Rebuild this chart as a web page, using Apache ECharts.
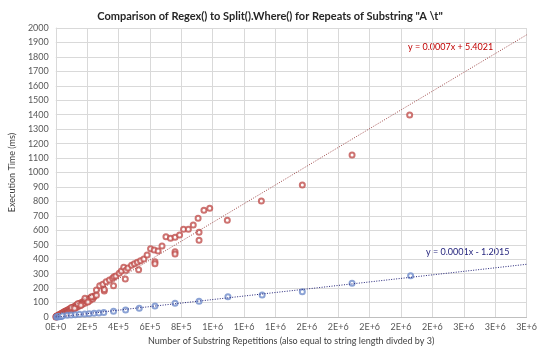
<!DOCTYPE html>
<html>
<head>
<meta charset="utf-8">
<script src="https://cdn.jsdelivr.net/npm/echarts@6/dist/echarts.min.js"></script>
<style>
  html, body { margin: 0; padding: 0; background: #fff; }
  #chart { width: 540px; height: 354px; }
</style>
</head>
<body>
<div id="chart"></div>
<script>
// Regex() timings: [repetitions, ms]
const regexData = [
  [1000, 0], [2000, 1], [3000, 3], [4000, 3], [5000, 2], [6000, 2], [7000, 5], [8000, 5],
  [9000, 3], [10000, 6], [11000, 8], [12000, 8], [13000, 5], [15000, 9], [16000, 12],
  [18000, 11], [19000, 7], [21000, 12], [22000, 15], [24000, 15], [25000, 11], [27000, 16],
  [28000, 19], [30000, 18], [31000, 14], [34000, 20], [35000, 24], [38000, 23], [39000, 17],
  [42000, 24], [43000, 29], [46000, 28], [47000, 21], [50000, 29], [51000, 34], [54000, 33],
  [55000, 26], [58000, 34], [59000, 39], [63000, 38], [64000, 30], [68000, 39], [69000, 45],
  [73000, 44], [74000, 35], [78000, 45], [79000, 50], [83000, 50], [84000, 41], [88000, 51],
  [89000, 57], [94000, 56], [95000, 47], [100000, 57], [101000, 63], [106000, 63],
  [107000, 53], [112000, 64], [113000, 70], [118000, 70], [119000, 59], [124000, 71],
  [125000, 77], [130000, 77], [131000, 66], [136000, 78], [137000, 85], [142000, 84],
  [143000, 73], [148000, 86], [149000, 93], [155000, 91], [156000, 80], [162000, 93],
  [163000, 101], [169000, 99], [170000, 88], [176000, 101], [177000, 109], [184000, 108],
  [185000, 96], [192000, 110], [193000, 118], [200000, 117], [201000, 105], [208000, 119],
  [209000, 127], [216000, 126], [217000, 114], [225000, 128], [226000, 136], [234000, 136],
  [235000, 124], [243000, 139], [244000, 146],
  [100000, 66], [120000, 60], [140000, 92], [160000, 82], [186000, 129], [205000, 104],
  [228000, 140], [259000, 150], [259000, 187], [280000, 217], [300000, 226], [309000, 180],
  [309000, 190], [321000, 244], [342000, 256], [362000, 268], [368000, 217], [371000, 279],
  [383000, 284], [404000, 302], [418000, 318], [433000, 344], [443000, 263], [447000, 323],
  [460000, 339], [483000, 358], [501000, 369], [520000, 379], [528000, 327], [540000, 390],
  [561000, 401], [582000, 429], [604000, 473], [627000, 464], [632000, 383], [632000, 369],
  [652000, 457], [677000, 491], [702000, 556], [731000, 545], [760000, 552], [760000, 452],
  [760000, 436], [789000, 567], [814000, 607], [845000, 607], [876000, 637], [907000, 683],
  [913000, 586], [913000, 531], [944000, 738], [981000, 752], [1093000, 670], [1310000, 803],
  [1571000, 913], [1888000, 1121], [2255000, 1398]
];

// Split().Where() timings: [repetitions, ms]
const splitData = [
  [5000, 0], [10000, 1], [15000, 1], [20000, 2], [25000, 3], [30000, 3], [35000, 4],
  [43000, 9], [73000, 12], [98000, 14], [124000, 16], [151000, 19], [184000, 21], [213000, 23],
  [244000, 26], [275000, 28], [306000, 32], [368000, 39], [445000, 48], [532000, 60],
  [632000, 76], [760000, 95], [913000, 109], [1097000, 140], [1315000, 152], [1571000, 175],
  [1888000, 233], [2261000, 286]
];

// linear trendlines: [slope, intercept] and the labels shown
const regexTrend = [0.000649, 5.4021];
const splitTrend = [0.000122, -1.2015];
const regexTrendLabel = 'y = 0.0007x + 5.4021';
const splitTrendLabel = 'y = 0.0001x - 1.2015';
const xRange = [0, 3000000];

function trendLine(t) {
  return xRange.map(function (x) { return [x, t[0] * x + t[1]]; });
}

const font = 'Lato, "Open Sans", sans-serif';
const chart = echarts.init(document.getElementById('chart'));
chart.setOption({
  animation: false,
  textStyle: { fontFamily: font },
  title: {
    text: 'Comparison of Regex() to Split().Where() for Repeats of Substring "A \\t"',
    left: 'center',
    top: 6,
    textStyle: { fontFamily: font, fontSize: 11, fontWeight: 'bold', color: '#262626' }
  },
  grid: { left: 45, right: 12, top: 28, bottom: 37 },
  xAxis: {
    type: 'value',
    min: 0,
    max: 3000000,
    interval: 200000,
    name: 'Number of Substring Repetitions (also equal to string length divded by 3)',
    nameLocation: 'middle',
    nameGap: 20,
    nameTextStyle: { fontSize: 9, color: '#404040' },
    axisLine: { show: true, lineStyle: { color: '#bfbfbf' } },
    axisTick: { show: false },
    axisLabel: {
      fontSize: 9, color: '#595959', margin: 6,
      formatter: function (v) { return v.toExponential(0).toUpperCase(); }
    },
    splitLine: { show: true, lineStyle: { color: '#d9d9d9' } }
  },
  yAxis: {
    type: 'value',
    min: 0,
    max: 2000,
    interval: 100,
    name: 'Execution Time (ms)',
    nameLocation: 'middle',
    nameGap: 30,
    nameTextStyle: { fontSize: 9, color: '#404040' },
    axisLine: { show: true, lineStyle: { color: '#d9d9d9' } },
    axisTick: { show: false },
    axisLabel: {
      fontSize: 9, color: '#595959', margin: 7,
      formatter: function (v) { return String(v); }
    },
    splitLine: { show: true, lineStyle: { color: '#d9d9d9' } }
  },
  series: [
    {
      name: 'Regex',
      type: 'scatter',
      symbol: 'emptyCircle',
      symbolSize: 5,
      itemStyle: { color: '#c0504d', borderColor: '#c0504d', borderWidth: 1 },
      data: regexData,
      z: 3
    },
    {
      name: 'Split',
      type: 'scatter',
      symbol: 'emptyCircle',
      symbolSize: 5,
      itemStyle: { color: '#6f8ccb', borderColor: '#6f8ccb', borderWidth: 1 },
      data: splitData,
      z: 4
    },
    {
      name: 'Regex trend',
      type: 'line',
      showSymbol: false,
      silent: true,
      lineStyle: { color: '#9e4a4a', width: 1, type: [1, 1.5] },
      data: trendLine(regexTrend),
      z: 5
    },
    {
      name: 'Split trend',
      type: 'line',
      showSymbol: false,
      silent: true,
      lineStyle: { color: '#26267a', width: 1, type: [1, 1.5] },
      data: trendLine(splitTrend),
      z: 5
    }
  ],
  graphic: [
    {
      type: 'text', left: 408, top: 43,
      style: { text: regexTrendLabel, fill: '#c00000', font: '9px ' + font }
    },
    {
      type: 'text', left: 426, top: 248,
      style: { text: splitTrendLabel, fill: '#1f1f7a', font: '9px ' + font }
    }
  ]
});
</script>
</body>
</html>
